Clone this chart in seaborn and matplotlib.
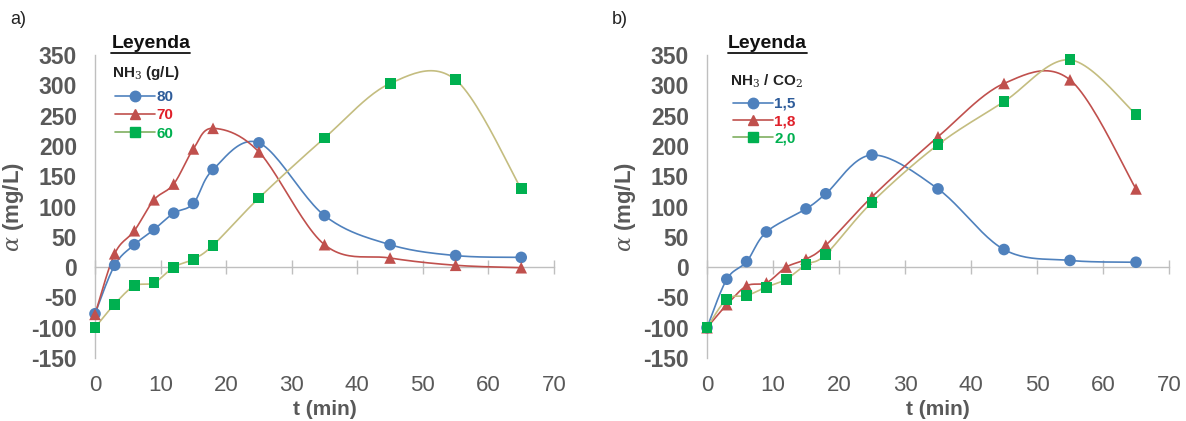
import numpy as np
import pandas as pd
import matplotlib
matplotlib.use("Agg")
import matplotlib.pyplot as plt
from matplotlib.lines import Line2D
import seaborn as sns

# ---------------- data ----------------
t_all = [0, 3, 6, 9, 12, 15, 18, 25, 35, 45, 55, 65]

# panel a) NH3 (g/L)
a_labels = ["80", "70", "60"]
a_80 = [-77, 3, 37, 62, 89, 105, 161, 205, 85, 37, 19, 16]
a_70 = [-78, 22, 60, 111, 137, 195, 229, 190, 37, 15, 3, -1]
a_60 = [-100, -61, -31, -26, 0, 13, 36, 114, 213, 303, 309, 129]

# panel b) NH3 / CO2
b_labels = ["1,5", "1,8", "2,0"]
t_b15 = [0, 3, 6, 9, 15, 18, 25, 35, 45, 55, 65]
b_15 = [-100, -20, 9, 58, 96, 121, 185, 129, 29, 11, 8]
b_18 = [-100, -62, -31, -26, 0, 13, 36, 116, 215, 303, 309, 129]
b_20 = [-100, -53, -47, -33, -20, 4, 21, 107, 202, 273, 342, 252]

x_ticks = [0, 10, 20, 30, 40, 50, 60, 70]
y_ticks = [-150, -100, -50, 0, 50, 100, 150, 200, 250, 300, 350]

# ---------------- style ----------------
sns.set_theme(style="white")
plt.rcParams["font.family"] = ["Liberation Sans", "DejaVu Sans"]
plt.rcParams["mathtext.fontset"] = "dejavuserif"
plt.rcParams["axes.unicode_minus"] = False

line_cols = ["#4F81BD", "#C0504D", "#C4BD80"]
leg_line_cols = ["#4F81BD", "#C0504D", "#7FAF60"]
mark_cols = ["#4F81BD", "#C0504D", "#00B050"]
text_cols = ["#2E5C9A", "#E0202A", "#00B050"]
markers = ["o", "^", "s"]
msizes = [70, 70, 62]
gray = "#595959"
axis_gray = "#BFBFBF"


def smooth(x, y, n=24):
    """Excel-like smoothed curve (uniform Catmull-Rom) through the data."""
    x = np.asarray(x, float)
    y = np.asarray(y, float)
    P = np.column_stack([x, y])
    P = np.vstack([P[0], P, P[-1]])
    out = []
    for i in range(1, len(P) - 2):
        p0, p1, p2, p3 = P[i - 1], P[i], P[i + 1], P[i + 2]
        tt = np.linspace(0, 1, n, endpoint=False)[:, None]
        c = 0.5 * ((2 * p1) + (-p0 + p2) * tt + (2 * p0 - 5 * p1 + 4 * p2 - p3) * tt ** 2
                   + (-p0 + 3 * p1 - 3 * p2 + p3) * tt ** 3)
        out.append(c)
    out.append(P[-2][None, :])
    c = np.vstack(out)
    return c[:, 0], c[:, 1]


fig = plt.figure(figsize=(11.86, 4.21), dpi=100)
ax_a = fig.add_axes([95 / 1186, 63 / 421, 459 / 1186, 303 / 421])
ax_b = fig.add_axes([707 / 1186, 63 / 421, 462 / 1186, 303 / 421])

panels = [
    (ax_a, [(t_all, a_80), (t_all, a_70), (t_all, a_60)]),
    (ax_b, [(t_b15, b_15), (t_all, b_18), (t_all, b_20)]),
]

for ax, series in panels:
    for k, (xs, ys) in enumerate(series):
        sx, sy = smooth(xs, ys)
        df_s = pd.DataFrame({"t": sx, "v": sy})
        sns.lineplot(data=df_s, x="t", y="v", ax=ax, color=line_cols[k], lw=1.2,
                     sort=False, estimator=None, zorder=3)
        df = pd.DataFrame({"t": xs, "v": ys})
        sns.scatterplot(data=df, x="t", y="v", ax=ax, marker=markers[k], s=msizes[k],
                        color=mark_cols[k], edgecolor="none", zorder=4, clip_on=False)

    ax.set_xlim(0, 70)
    ax.set_ylim(-150, 350)
    for sp in ["top", "right"]:
        ax.spines[sp].set_visible(False)
    ax.spines["left"].set_color(axis_gray)
    ax.spines["left"].set_linewidth(1.0)
    ax.spines["bottom"].set_position(("data", 0))
    ax.spines["bottom"].set_color(axis_gray)
    ax.spines["bottom"].set_linewidth(1.0)
    ax.set_xticks(x_ticks)
    ax.set_yticks(y_ticks)
    ax.tick_params(axis="x", direction="inout", length=10, width=1.0, color=axis_gray,
                   labelbottom=False, bottom=True)
    ax.tick_params(axis="y", length=0, pad=13, labelsize=16.5, labelcolor=gray)
    for lab in ax.get_yticklabels():
        lab.set_fontweight("bold")
    sec = ax.secondary_xaxis("bottom")
    sec.set_xticks(x_ticks)
    sec.tick_params(length=0, pad=12, labelsize=16, labelcolor=gray)
    sec.spines["bottom"].set_visible(False)
    sec.set_xlabel("t (min)", fontsize=15, fontweight="bold", color=gray, labelpad=3)
    ax.set_xlabel("")
    ax.set_ylabel(r"$\alpha$ (mg/L)", fontsize=16, fontweight="bold", color=gray)
    ax.yaxis.set_label_coords(-0.15, 0.5)

fig.text(10 / 1186, 1 - 20 / 421, "a)", fontsize=13, color="#222222", va="center")
fig.text(612 / 1186, 1 - 20 / 421, "b)", fontsize=13, color="#222222", va="center")

# legends
leg_specs = [
    (a_labels, "NH$_3$ (g/L)", 151, 112, 73, 90, 0.28),
    (b_labels, "NH$_3$ / CO$_2$", 767, 730, 81, 97, 0.22),
]
for labels, title, ley_x, tx, ty, ly, lsp in leg_specs:
    t = fig.text(ley_x / 1186, 1 - 43 / 421, "Leyenda", fontsize=14, fontweight="bold",
                 color="#111111", ha="center", va="center")
    fig.canvas.draw()
    bb = t.get_window_extent()
    fig.add_artist(Line2D([bb.x0 / 1186, bb.x1 / 1186], [(bb.y0 - 1) / 421, (bb.y0 - 1) / 421],
                          color="#111111", lw=1.3, transform=fig.transFigure))
    fig.text(tx / 1186, 1 - ty / 421, title, fontsize=11, fontweight="bold",
             color="#222222", ha="left", va="center")
    handles = [Line2D([], [], color=leg_line_cols[k], marker=markers[k],
                      markerfacecolor=mark_cols[k], markeredgecolor=mark_cols[k],
                      markersize=7.5, lw=1.2) for k in range(3)]
    leg = fig.legend(handles, labels, loc="upper left",
                     bbox_to_anchor=((tx + 3) / 1186, 1 - ly / 421),
                     frameon=False, fontsize=11, handlelength=2.6,
                     handletextpad=0.1, labelspacing=lsp, borderpad=0, borderaxespad=0)
    for k, txt in enumerate(leg.get_texts()):
        txt.set_color(text_cols[k])
        txt.set_fontweight("bold")

fig.savefig("out.png", dpi=100, facecolor="white")
